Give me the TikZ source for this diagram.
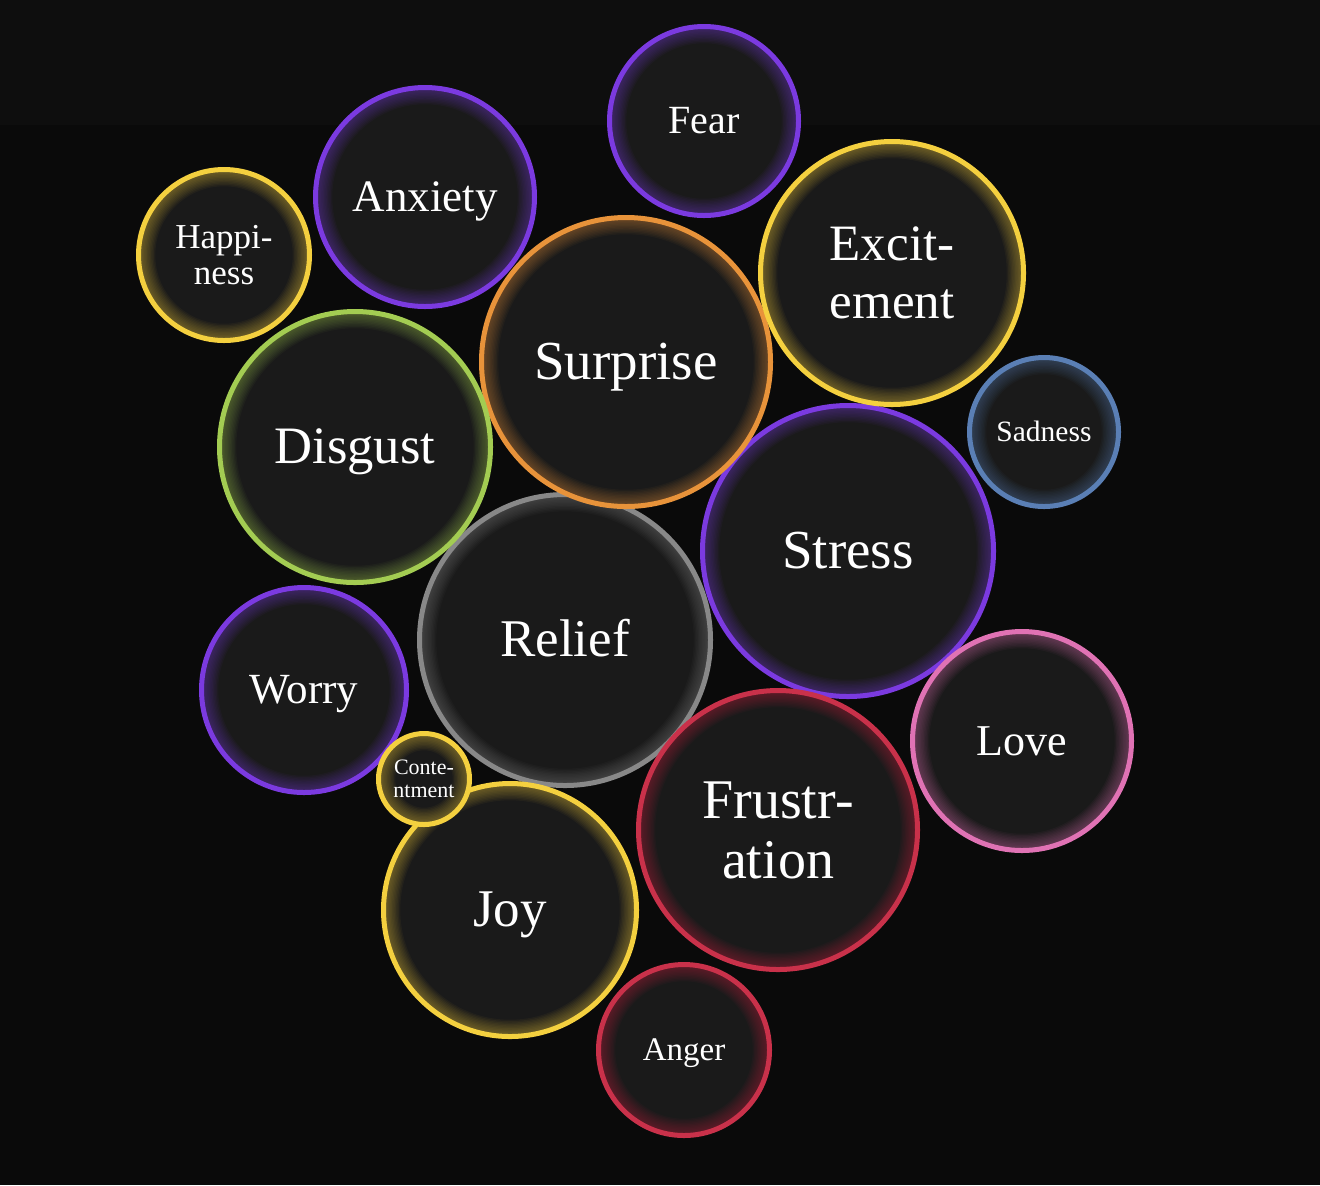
\documentclass[tikz,border=0pt]{standalone}
\usepackage{fontspec}
\setmainfont{Liberation Serif}
\usepackage{xcolor}
\usepackage{tikz}
\usetikzlibrary{positioning}
\definecolor{pageBg}{HTML}{0a0a0a}
\definecolor{pageTop}{HTML}{0e0e0e}
\definecolor{bubFill}{HTML}{1a1a1a}
\definecolor{emoPurple}{HTML}{7b3ae0}
\definecolor{emoYellow}{HTML}{f4d03f}
\definecolor{emoOrange}{HTML}{e8933a}
\definecolor{emoGreen}{HTML}{a3cc52}
\definecolor{emoBlue}{HTML}{5a7fb5}
\definecolor{emoGray}{HTML}{888888}
\definecolor{emoPink}{HTML}{e072b4}
\definecolor{emoRed}{HTML}{c9314a}
\newcommand{\fsz}[2]{\fontsize{#1}{#2}\selectfont}

\begin{document}
\begin{tikzpicture}[x=0.5pt, y=-0.5pt,
  bub/.style 2 args={circle, inner sep=0pt, minimum size=#2pt, fill=bubFill, draw=#1, line width=2.5pt, text=white, align=center,
    path picture={\foreach \k in {1,...,12}{\draw[#1, opacity=0.045, line width=\k*1.4pt] (path picture bounding box.center) circle (#2/2*1pt);}}},
  oneline/.style={font=\fsz{#1}{#1}, text height=0.84*#1pt, text depth=0.2*#1pt}]
% page
\fill[pageBg] (0,0) rectangle (1320,1185);
\fill[pageTop] (0,0) rectangle (1320,125);
\useasboundingbox (0,0) rectangle (1320,1185);
% bubbles, later ones on top
\node[bub={emoGray}{145.5}, oneline=26.5] (relief) at (565,640) {Relief};
\node[bub={emoPurple}{145.5}, oneline=27.5] (stress) at (848,551) {Stress};
\node[bub={emoRed}{139.5}, font=\fsz{28}{30}] (frustration) at (778,830) {Frustr-\\ation};
\node[bub={emoPink}{109.5}, oneline=22] (love) at (1022,741) {Love};
\node[bub={emoOrange}{144.5}, oneline=27.5] (surprise) at (626,362) {Surprise};
\node[bub={emoGreen}{135.5}, oneline=26.3] (disgust) at (355,447) {Disgust};
\node[bub={emoYellow}{131.5}, font=\fsz{25.5}{29}] (excitement) at (892,273) {Excit-\\ement};
\node[bub={emoPurple}{109.5}, oneline=22.5] (anxiety) at (425,197) {Anxiety};
\node[bub={emoPurple}{94.5}, oneline=20] (fear) at (704,121) {Fear};
\node[bub={emoYellow}{85.5}, font=\fsz{17.5}{18}] (happiness) at (224,255) {Happi-\\ness};
\node[bub={emoBlue}{74.5}, oneline=14.75] (sadness) at (1044,432) {Sadness};
\node[bub={emoPurple}{102.5}, oneline=21.5] (worry) at (304,690) {Worry};
\node[bub={emoYellow}{126.5}, oneline=26.5] (joy) at (510,910) {Joy};
\node[bub={emoRed}{85.5}, oneline=16.5] (anger) at (684,1050) {Anger};
\node[bub={emoYellow}{45.5}, font=\fsz{11}{11.5}] (contentment) at (424,779) {Conte-\\ntment};
\end{tikzpicture}
\end{document}
